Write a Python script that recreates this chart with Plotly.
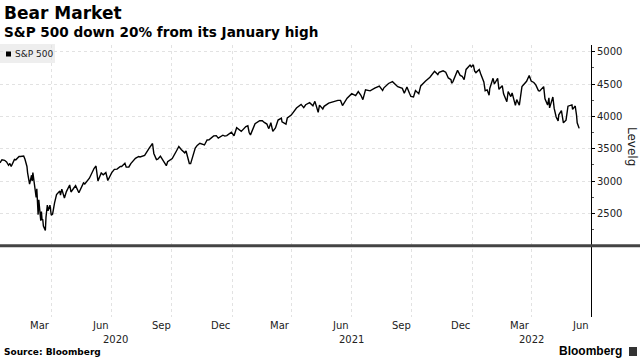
import plotly.graph_objects as go

# ---------------- data ----------------
dates = [
    "2020-01-14","2020-01-17","2020-01-21","2020-01-24","2020-01-27","2020-01-29","2020-01-31",
    "2020-02-05","2020-02-07","2020-02-12","2020-02-14","2020-02-19","2020-02-21","2020-02-24",
    "2020-02-25","2020-02-27","2020-02-28","2020-03-02","2020-03-03","2020-03-04","2020-03-06",
    "2020-03-09","2020-03-10","2020-03-11","2020-03-12","2020-03-13","2020-03-16","2020-03-17",
    "2020-03-18","2020-03-19","2020-03-20","2020-03-23","2020-03-24","2020-03-26","2020-03-27",
    "2020-03-30","2020-04-01","2020-04-03","2020-04-06","2020-04-09","2020-04-14","2020-04-15",
    "2020-04-17","2020-04-21","2020-04-24","2020-04-29","2020-05-01","2020-05-08","2020-05-13",
    "2020-05-20","2020-05-22","2020-05-29","2020-06-05","2020-06-08","2020-06-11","2020-06-16",
    "2020-06-19","2020-06-23","2020-06-26","2020-07-02","2020-07-06","2020-07-10","2020-07-15",
    "2020-07-17","2020-07-22","2020-07-24","2020-07-28","2020-07-31","2020-08-07","2020-08-12",
    "2020-08-14","2020-08-21","2020-08-28","2020-09-02","2020-09-04","2020-09-08","2020-09-10",
    "2020-09-14","2020-09-18","2020-09-21","2020-09-23","2020-09-25","2020-10-02","2020-10-09",
    "2020-10-12","2020-10-16","2020-10-21","2020-10-23","2020-10-28","2020-10-30","2020-11-04",
    "2020-11-06","2020-11-09","2020-11-13","2020-11-20","2020-11-24","2020-11-27","2020-12-04",
    "2020-12-08","2020-12-11","2020-12-18","2020-12-21","2020-12-24","2020-12-31",
    "2021-01-04","2021-01-08","2021-01-15","2021-01-22","2021-01-25","2021-01-27","2021-01-29",
    "2021-02-05","2021-02-12","2021-02-16","2021-02-19","2021-02-23","2021-02-25","2021-02-26",
    "2021-03-01","2021-03-04","2021-03-08","2021-03-12","2021-03-17","2021-03-18","2021-03-24",
    "2021-03-26","2021-04-01","2021-04-09","2021-04-16","2021-04-20","2021-04-23","2021-04-29",
    "2021-05-04","2021-05-07","2021-05-12","2021-05-14","2021-05-19","2021-05-21","2021-05-28",
    "2021-06-04","2021-06-11","2021-06-15","2021-06-18","2021-06-25","2021-07-02","2021-07-08",
    "2021-07-12","2021-07-16","2021-07-19","2021-07-23","2021-07-27","2021-07-30","2021-08-06",
    "2021-08-13","2021-08-18","2021-08-20","2021-08-27","2021-09-02","2021-09-10","2021-09-14",
    "2021-09-17","2021-09-20","2021-09-24","2021-09-28","2021-09-30","2021-10-04","2021-10-07",
    "2021-10-12","2021-10-15","2021-10-22","2021-10-29","2021-11-05","2021-11-10","2021-11-12",
    "2021-11-18","2021-11-22","2021-11-26","2021-11-30","2021-12-01","2021-12-03","2021-12-10",
    "2021-12-14","2021-12-17","2021-12-20","2021-12-23","2021-12-29","2021-12-31",
    "2022-01-03","2022-01-05","2022-01-07","2022-01-12","2022-01-14","2022-01-19","2022-01-21",
    "2022-01-24","2022-01-27","2022-01-28","2022-02-02","2022-02-04","2022-02-09","2022-02-11",
    "2022-02-16","2022-02-18","2022-02-23","2022-02-25","2022-03-01","2022-03-03","2022-03-08",
    "2022-03-10","2022-03-14","2022-03-18","2022-03-25","2022-03-29","2022-04-01","2022-04-05",
    "2022-04-08","2022-04-12","2022-04-14","2022-04-20","2022-04-22","2022-04-26","2022-04-28",
    "2022-04-29","2022-05-04","2022-05-06","2022-05-09","2022-05-12","2022-05-13","2022-05-17",
    "2022-05-20","2022-05-24","2022-05-27","2022-06-02","2022-06-03","2022-06-07","2022-06-09",
    "2022-06-10","2022-06-13",
]
spx = [
    3283,3330,3321,3296,3244,3273,3226,
    3335,3328,3380,3380,3386,3338,3226,
    3128,2979,2954,3090,3003,3130,2972,
    2747,2882,2741,2481,2711,2386,2529,
    2398,2409,2305,2237,2447,2630,2542,
    2627,2471,2489,2664,2790,2846,2783,
    2875,2737,2837,2940,2831,2930,2820,
    2972,2956,3044,3194,3232,3002,3125,
    3098,3131,3009,3130,3180,3185,3227,
    3225,3276,3216,3218,3271,3351,3380,
    3373,3397,3508,3581,3427,3332,3339,
    3384,3320,3281,3237,3299,3348,3477,
    3534,3484,3436,3465,3271,3270,3443,
    3509,3551,3585,3558,3635,3638,3699,
    3702,3664,3709,3695,3703,3756,
    3701,3825,3768,3842,3855,3751,3714,
    3887,3935,3933,3907,3881,3829,3811,
    3902,3769,3821,3943,3974,3916,3881,
    3975,4020,4129,4186,4135,4180,4212,
    4165,4233,4063,4174,4116,4156,4204,
    4230,4247,4247,4167,4281,4352,4321,
    4385,4327,4259,4412,4402,4395,4437,
    4468,4400,4442,4509,4537,4459,4443,
    4433,4358,4456,4353,4308,4301,4400,
    4351,4471,4545,4605,4698,4647,4683,
    4705,4683,4595,4567,4513,4538,4712,
    4634,4621,4568,4726,4793,4766,
    4797,4701,4677,4726,4663,4533,4398,
    4410,4327,4432,4589,4501,4587,4419,
    4475,4349,4226,4385,4306,4364,4171,
    4260,4173,4463,4543,4632,4546,4525,
    4488,4398,4393,4460,4272,4175,4288,
    4132,4300,4123,3991,3930,4024,4089,
    3901,3942,4158,4177,4109,4161,4018,
    3901,3815,
]
y_ticks = [2500, 3000, 3500, 4000, 4500, 5000]
y_minor = [2250, 2750, 3250, 3750, 4250, 4750]
grid_dates = ["2020-04-01","2020-07-01","2020-10-01","2021-01-01","2021-04-01",
              "2021-07-01","2021-10-01","2022-01-01","2022-04-01"]
month_dates = ["2020-03-15","2020-06-15","2020-09-15","2020-12-15","2021-03-15",
               "2021-06-15","2021-09-15","2021-12-15","2022-03-15","2022-06-15"]
month_labels = ["Mar","Jun","Sep","Dec","Mar","Jun","Sep","Dec","Mar","Jun"]
year_dates = ["2020-07-08","2021-07-02","2022-04-01"]
year_labels = ["2020","2021","2022"]
baseline_value = 2000

# ---------------- layout geometry ----------------
W, H = 640, 360
L, R, T, B = 0, 49, 45, 43
PW, PH = W - L - R, H - T - B
Y_RANGE = [898, 5104]

def xp(px):
    return (px - L) / PW

def yp(py):
    return (H - B - py) / PH

fig = go.Figure()
fig.add_trace(go.Scatter(x=dates, y=spx, mode="lines",
                         line=dict(color="#000000", width=1.4),
                         showlegend=False, hoverinfo="skip"))

GRID = "#e2e2e2"
fig.update_layout(
    width=W, height=H,
    margin=dict(l=L, r=R, t=T, b=B),
    paper_bgcolor="white", plot_bgcolor="white",
    showlegend=False,
    xaxis=dict(type="date", range=["2020-01-14", "2022-07-01"],
               tickmode="array", tickvals=grid_dates, showticklabels=False,
               ticks="", showgrid=True, gridcolor=GRID, griddash="dot", gridwidth=1,
               zeroline=False, showline=False),
    yaxis=dict(side="right", range=Y_RANGE, tickmode="array", tickvals=y_ticks,
               showgrid=True, gridcolor=GRID, griddash="dot", gridwidth=1,
               zeroline=False, showline=True, linecolor="#000000", linewidth=1,
               ticks="outside", ticklen=3, tickcolor="#000000",
               tickfont=dict(family="DejaVu Sans", size=10, color="#222222"),
               minor=dict(tickmode="array", tickvals=y_minor, ticks="outside",
                          ticklen=2, tickcolor="#555555", showgrid=False)),
)

shapes = []
# thick baseline at 2000
by = (baseline_value - Y_RANGE[0]) / (Y_RANGE[1] - Y_RANGE[0])
shapes.append(dict(type="line", xref="paper", yref="paper", x0=0, x1=W / PW,
                   y0=by, y1=by, line=dict(color="#444444", width=3), layer="above"))
# legend box
shapes.append(dict(type="rect", xref="paper", yref="paper", x0=xp(0), x1=xp(55),
                   y0=yp(63), y1=yp(44), fillcolor="#eeeeee", line=dict(width=0),
                   layer="below"))
shapes.append(dict(type="rect", xref="paper", yref="paper", x0=xp(6), x1=xp(11),
                   y0=yp(56.5), y1=yp(51.5), fillcolor="#000000", line=dict(width=0)))
# bloomberg icon
shapes.append(dict(type="rect", xref="paper", yref="paper", x0=xp(629), x1=xp(637),
                   y0=yp(356), y1=yp(347), fillcolor="#333333", line=dict(width=0)))
fig.update_layout(shapes=shapes)

ann = []
ann.append(dict(text="<b>Bear Market</b>", xref="paper", yref="paper", x=xp(2), y=yp(13),
                xanchor="left", yanchor="middle", showarrow=False,
                font=dict(family="DejaVu Sans", size=17, color="#000000")))
ann.append(dict(text="<b>S&P 500 down 20% from its January high</b>", xref="paper", yref="paper",
                x=xp(2), y=yp(31.5), xanchor="left", yanchor="middle", showarrow=False,
                font=dict(family="DejaVu Sans", size=13.6, color="#000000")))
ann.append(dict(text="S&P 500", xref="paper", yref="paper", x=xp(13), y=yp(54),
                xanchor="left", yanchor="middle", showarrow=False,
                font=dict(family="DejaVu Sans", size=9, color="#222222")))
for d, lab in zip(month_dates, month_labels):
    ann.append(dict(text=lab, xref="x", yref="paper", x=d, y=yp(325),
                    xanchor="center", yanchor="middle", showarrow=False,
                    font=dict(family="DejaVu Sans", size=10, color="#222222")))
for d, lab in zip(year_dates, year_labels):
    ann.append(dict(text=lab, xref="x", yref="paper", x=d, y=yp(339),
                    xanchor="center", yanchor="middle", showarrow=False,
                    font=dict(family="DejaVu Sans", size=10, color="#222222")))
ann.append(dict(text="Levelg", xref="paper", yref="paper", x=xp(632), y=yp(146),
                xanchor="center", yanchor="middle", showarrow=False, textangle=90,
                font=dict(family="DejaVu Sans", size=12, color="#222222")))
ann.append(dict(text="<b>Source: Bloomberg</b>", xref="paper", yref="paper", x=xp(2), y=yp(352),
                xanchor="left", yanchor="middle", showarrow=False,
                font=dict(family="DejaVu Sans", size=9, color="#000000")))
ann.append(dict(text="<b>Bloomberg</b>", xref="paper", yref="paper", x=xp(624), y=yp(351),
                xanchor="right", yanchor="middle", showarrow=False,
                font=dict(family="Liberation Sans", size=12, color="#000000")))
fig.update_layout(annotations=ann)

fig.write_html("out.html", config={"displayModeBar": False},
               post_script="document.body.style.margin='0';")
